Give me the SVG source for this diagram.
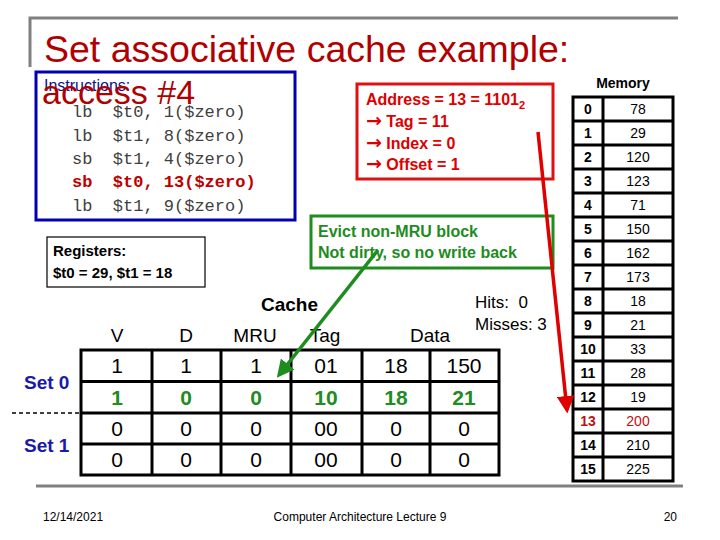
<svg xmlns="http://www.w3.org/2000/svg" width="720" height="540" viewBox="0 0 720 540">
<defs>
<style>
.sans{font-family:"Liberation Sans",Arial,sans-serif}
.mono{font-family:"Liberation Mono","Courier New",monospace;font-size:17px;fill:#404040}
.b{font-weight:bold}
.arr{font-family:"DejaVu Sans",sans-serif;font-weight:bold;font-size:19px}
.cell{font-family:"Liberation Sans",Arial,sans-serif;font-size:21px;text-anchor:middle;fill:#000}
.g{fill:#228b22;font-weight:bold}
.hdr{font-family:"Liberation Sans",Arial,sans-serif;font-size:19px;text-anchor:middle}
.mem{font-family:"Liberation Sans",Arial,sans-serif;font-size:14px;text-anchor:middle}
.grid{stroke:#000;stroke-width:3;fill:none}
.red{fill:#dd0000}
</style>
<marker id="ahR" viewBox="0 0 10 10" refX="8" refY="5" markerWidth="5" markerHeight="5" orient="auto"><path d="M0,0 L10,5 L0,10 z" fill="#e00000"/></marker>
<marker id="ahG" viewBox="0 0 10 10" refX="8" refY="5" markerWidth="5" markerHeight="5" orient="auto"><path d="M0,0 L10,5 L0,10 z" fill="#1e8c1e"/></marker>
</defs>
<rect width="720" height="540" fill="#fff"/>
<g id="frame" stroke="#808080" stroke-width="3" fill="none">
<path d="M30,67 V18 H678"/>
<path d="M36,486 H683"/>
</g>
<g id="title">
<text x="44" y="62" class="sans" font-size="37.5" fill="#b00000">Set associative cache example:</text>
</g>
<g id="instructions">
<rect x="36" y="72" width="259" height="148" fill="none" stroke="#0000b0" stroke-width="3"/>
<text x="44" y="91" class="sans" font-size="16" fill="#10108a">Instructions:</text>
<text x="72" y="117" class="mono" xml:space="preserve">lb  $t0, 1($zero)</text>
<text x="72" y="140.5" class="mono" xml:space="preserve">lb  $t1, 8($zero)</text>
<text x="72" y="164" class="mono" xml:space="preserve">sb  $t1, 4($zero)</text>
<text x="72" y="187" class="mono b" style="fill:#c00000" xml:space="preserve">sb  $t0, 13($zero)</text>
<text x="72" y="210.5" class="mono" xml:space="preserve">lb  $t1, 9($zero)</text>
<text x="42" y="104" class="sans" font-size="34" fill="#b00000">access #4</text>
</g>
<g id="address">
<rect x="357" y="84" width="196" height="95" fill="none" stroke="#dd1111" stroke-width="3"/>
<text x="366" y="105" class="sans b red" font-size="16">Address = 13 = 1101<tspan font-size="11" dy="4">2</tspan></text>
<text x="366" y="127" class="sans b red" font-size="16"><tspan class="arr">→</tspan> Tag = 11</text>
<text x="366" y="149" class="sans b red" font-size="16"><tspan class="arr">→</tspan> Index = 0</text>
<text x="366" y="170" class="sans b red" font-size="16"><tspan class="arr">→</tspan> Offset = 1</text>
</g>
<g id="evict">
<rect x="311" y="216" width="242" height="52" fill="none" stroke="#1e8c1e" stroke-width="3"/>
<text x="318" y="237" class="sans b" font-size="16" fill="#1e8c1e">Evict non-MRU block</text>
<text x="318" y="258" class="sans b" font-size="16" fill="#1e8c1e">Not dirty, so no write back</text>
</g>
<g id="registers">
<rect x="47" y="237" width="158" height="50" fill="none" stroke="#000" stroke-width="1.2"/>
<text x="53" y="256" class="sans b" font-size="15">Registers:</text>
<text x="53" y="278" class="sans b" font-size="15">$t0 = 29, $t1 = 18</text>
</g>
<g id="stats">
<text x="475" y="308" class="sans" font-size="17" xml:space="preserve">Hits:  0</text>
<text x="475" y="330" class="sans" font-size="17">Misses: 3</text>
</g>
<g id="cache">
<text x="261" y="311" class="sans b" font-size="19">Cache</text>
<text x="117" y="342" class="hdr">V</text>
<text x="186" y="342" class="hdr">D</text>
<text x="255" y="342" class="hdr">MRU</text>
<text x="325" y="342" class="hdr">Tag</text>
<text x="430" y="342" class="hdr">Data</text>
<rect x="81" y="350" width="418" height="125" class="grid"/>
<path class="grid" d="M81,381.5 H499 M81,413 H499 M81,444 H499 M152,350 V475 M221,350 V475 M291,350 V475 M362,350 V475 M430,350 V475"/>
<text x="24" y="389" class="sans b" font-size="19" fill="#1a1aa8">Set 0</text>
<text x="24" y="452" class="sans b" font-size="19" fill="#1a1aa8">Set 1</text>
<path d="M12,413 H81" stroke="#000" stroke-width="1.5" stroke-dasharray="4,3"/>
<g>
<text x="117" y="373" class="cell">1</text><text x="186" y="373" class="cell">1</text><text x="256" y="373" class="cell">1</text><text x="326" y="373" class="cell">01</text><text x="396" y="373" class="cell">18</text><text x="464" y="373" class="cell">150</text>
<text x="117" y="405" class="cell g">1</text><text x="186" y="405" class="cell g">0</text><text x="256" y="405" class="cell g">0</text><text x="326" y="405" class="cell g">10</text><text x="396" y="405" class="cell g">18</text><text x="464" y="405" class="cell g">21</text>
<text x="117" y="436" class="cell">0</text><text x="186" y="436" class="cell">0</text><text x="256" y="436" class="cell">0</text><text x="326" y="436" class="cell">00</text><text x="396" y="436" class="cell">0</text><text x="464" y="436" class="cell">0</text>
<text x="117" y="467" class="cell">0</text><text x="186" y="467" class="cell">0</text><text x="256" y="467" class="cell">0</text><text x="326" y="467" class="cell">00</text><text x="396" y="467" class="cell">0</text><text x="464" y="467" class="cell">0</text>
</g>
</g>
<g id="memory">
<text x="623" y="88" class="sans b" font-size="14" text-anchor="middle">Memory</text>
<rect x="573" y="97" width="100" height="384" class="grid"/>
<path class="grid" d="M603,97 V481 M573,121 H673 M573,145 H673 M573,169 H673 M573,193 H673 M573,217 H673 M573,241 H673 M573,265 H673 M573,289 H673 M573,313 H673 M573,337 H673 M573,361 H673 M573,385 H673 M573,409 H673 M573,433 H673 M573,457 H673"/>
<g class="mem">
<text x="588" y="114" font-weight="bold">0</text><text x="638" y="114">78</text>
<text x="588" y="138" font-weight="bold">1</text><text x="638" y="138">29</text>
<text x="588" y="162" font-weight="bold">2</text><text x="638" y="162">120</text>
<text x="588" y="186" font-weight="bold">3</text><text x="638" y="186">123</text>
<text x="588" y="210" font-weight="bold">4</text><text x="638" y="210">71</text>
<text x="588" y="234" font-weight="bold">5</text><text x="638" y="234">150</text>
<text x="588" y="258" font-weight="bold">6</text><text x="638" y="258">162</text>
<text x="588" y="282" font-weight="bold">7</text><text x="638" y="282">173</text>
<text x="588" y="306" font-weight="bold">8</text><text x="638" y="306">18</text>
<text x="588" y="330" font-weight="bold">9</text><text x="638" y="330">21</text>
<text x="588" y="354" font-weight="bold">10</text><text x="638" y="354">33</text>
<text x="588" y="378" font-weight="bold">11</text><text x="638" y="378">28</text>
<text x="588" y="402" font-weight="bold">12</text><text x="638" y="402">19</text>
<text x="588" y="426" font-weight="bold" fill="#c01010">13</text><text x="638" y="426" fill="#c01010">200</text>
<text x="588" y="450" font-weight="bold">14</text><text x="638" y="450">210</text>
<text x="588" y="474" font-weight="bold">15</text><text x="638" y="474">225</text>
</g>
</g>
<g id="connectors">
<line x1="538" y1="132" x2="567" y2="410" stroke="#e00000" stroke-width="3.5" marker-end="url(#ahR)"/>
<line x1="378" y1="250" x2="279" y2="375" stroke="#1e8c1e" stroke-width="3.5" marker-end="url(#ahG)"/>
</g>
<g id="footer" class="sans" font-size="12">
<text x="43" y="521">12/14/2021</text>
<text x="360" y="521" text-anchor="middle">Computer Architecture Lecture 9</text>
<text x="677" y="521" text-anchor="end">20</text>
</g>
</svg>
